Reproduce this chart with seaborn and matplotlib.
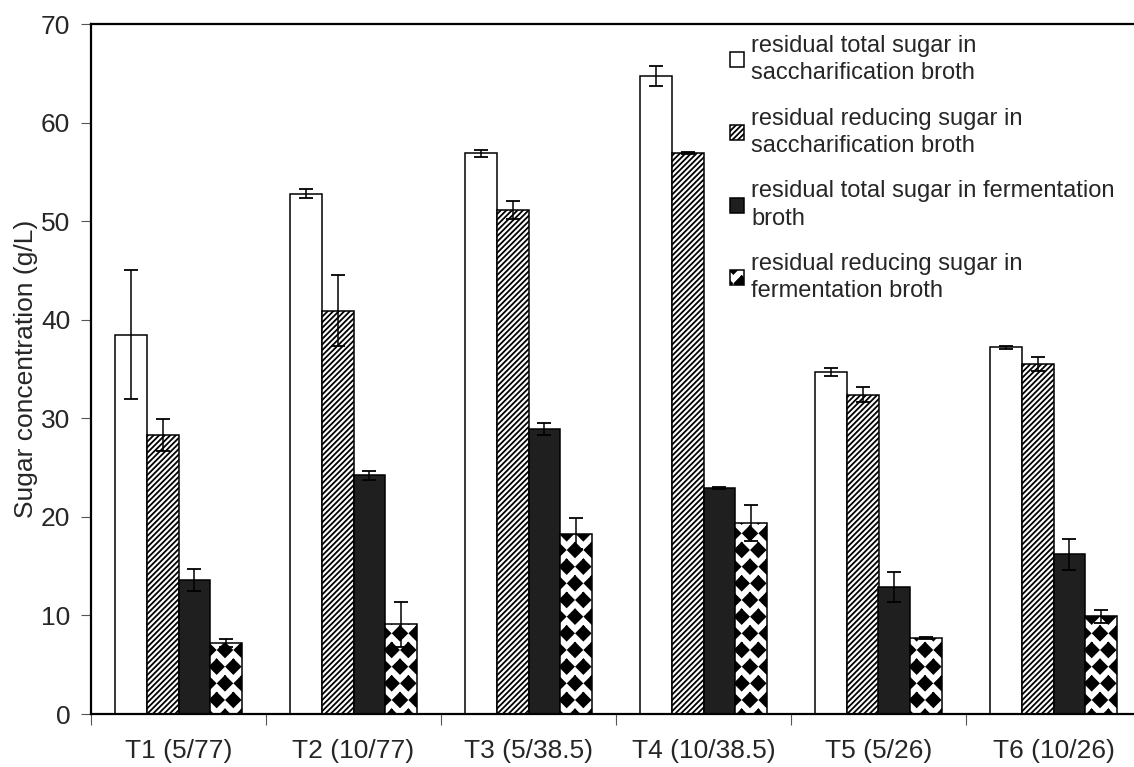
import numpy as np
import pandas as pd
import matplotlib
matplotlib.use("Agg")
import matplotlib.pyplot as plt
import matplotlib.hatch as mhatch
from matplotlib.path import Path
import seaborn as sns

# ---- data -------------------------------------------------------------
categories = ["T1 (5/77)", "T2 (10/77)", "T3 (5/38.5)",
              "T4 (10/38.5)", "T5 (5/26)", "T6 (10/26)"]

series = ["residual total sugar in\nsaccharification broth",
          "residual reducing sugar in\nsaccharification broth",
          "residual total sugar in fermentation\nbroth",
          "residual reducing sugar in\nfermentation broth"]

sacch_total = [38.5, 52.8, 56.9, 64.7, 34.7, 37.2]
sacch_total_err = [6.5, 0.5, 0.35, 1.0, 0.45, 0.15]

sacch_reducing = [28.3, 40.9, 51.1, 56.9, 32.4, 35.5]
sacch_reducing_err = [1.6, 3.6, 0.9, 0.1, 0.75, 0.7]

ferm_total = [13.6, 24.2, 28.9, 22.9, 12.9, 16.2]
ferm_total_err = [1.15, 0.5, 0.6, 0.1, 1.5, 1.55]

ferm_reducing = [7.2, 9.1, 18.3, 19.4, 7.7, 9.9]
ferm_reducing_err = [0.4, 2.3, 1.6, 1.8, 0.1, 0.7]

values = [sacch_total, sacch_reducing, ferm_total, ferm_reducing]
errors = [sacch_total_err, sacch_reducing_err, ferm_total_err, ferm_reducing_err]


# ---- filled-diamond hatch (used in place of the star hatch '*') -------
class Diamonds(mhatch.Shapes):
    size = 0.42
    filled = True

    def __init__(self, hatch, density):
        self.num_rows = int(hatch.count('*') * density)
        path = Path.unit_regular_polygon(4)
        self.shape_vertices = path.vertices
        self.shape_codes = np.full(len(self.shape_vertices), Path.LINETO,
                                   dtype=Path.code_type)
        self.shape_codes[0] = Path.MOVETO
        super().__init__(hatch, density)


mhatch._hatch_types = [Diamonds if t is mhatch.Stars else t
                       for t in mhatch._hatch_types]

# ---- style ------------------------------------------------------------
sns.set_style("white")
plt.rcParams["font.family"] = ["Liberation Sans", "DejaVu Sans"]
plt.rcParams["hatch.linewidth"] = 1.3

fills = ["#ffffff", "#ffffff", "#1f1f1f", "#ffffff"]
hatches = [None, "//////", None, "*"]

df = pd.DataFrame({
    "treatment": np.tile(categories, len(series)),
    "series": np.repeat(series, len(categories)),
    "value": np.concatenate(values),
})

fig = plt.figure(figsize=(11.34, 7.67), dpi=100)
ax = fig.add_axes([91 / 1134, 53 / 767, 1050 / 1134, 690 / 767])

sns.barplot(data=df, x="treatment", y="value", hue="series",
            order=categories, hue_order=series,
            palette=dict(zip(series, fills)), saturation=1,
            width=0.73, gap=0, errorbar=None, legend=False,
            edgecolor="black", linewidth=1.1, ax=ax)

for container, hatch, err in zip(ax.containers, hatches, errors):
    xs, hs = [], []
    for bar in container:
        if hatch:
            bar.set_hatch(hatch)
        xs.append(bar.get_x() + bar.get_width() / 2)
        hs.append(bar.get_height())
    ax.errorbar(xs, hs, yerr=err, fmt="none", ecolor="black",
                elinewidth=1.1, capsize=5, capthick=1.3, zorder=5)

# ---- axes -------------------------------------------------------------
ax.set_xlim(-0.5, len(categories) - 0.5)
ax.set_ylim(0, 70)
ax.set_yticks(range(0, 71, 10))
ax.set_xticks(range(len(categories)))
ax.set_xticklabels(categories)
ax.set_xticks(np.arange(-0.5, len(categories), 1.0), minor=True)
ax.set_xlabel("")
ax.set_ylabel("Sugar concentration (g/L)", fontsize=19, labelpad=2)

ax.tick_params(axis="y", which="major", left=True, direction="out",
               length=7, width=0.8, color="#555555", labelsize=19, pad=8)
ax.tick_params(axis="x", which="major", bottom=False, length=0,
               labelsize=19, pad=18)
ax.tick_params(axis="x", which="minor", bottom=True, direction="out",
               length=8, width=0.8, color="#555555")

for side in ["left", "bottom", "top"]:
    ax.spines[side].set_visible(True)
    ax.spines[side].set_color("black")
    ax.spines[side].set_linewidth(1.6)
ax.spines["right"].set_visible(False)

leg = ax.legend(handles=list(ax.containers), labels=series,
                loc="upper left", bbox_to_anchor=(730 / 1134, 1 - 35 / 767),
                bbox_transform=fig.transFigure, frameon=False,
                fontsize=17, handlelength=0.6, handleheight=0.6,
                handletextpad=0.3, labelspacing=1.0,
                borderpad=0, borderaxespad=0)
for t in leg.get_texts():
    t.set_linespacing(1.3)

fig.savefig("out.png", dpi=100)
